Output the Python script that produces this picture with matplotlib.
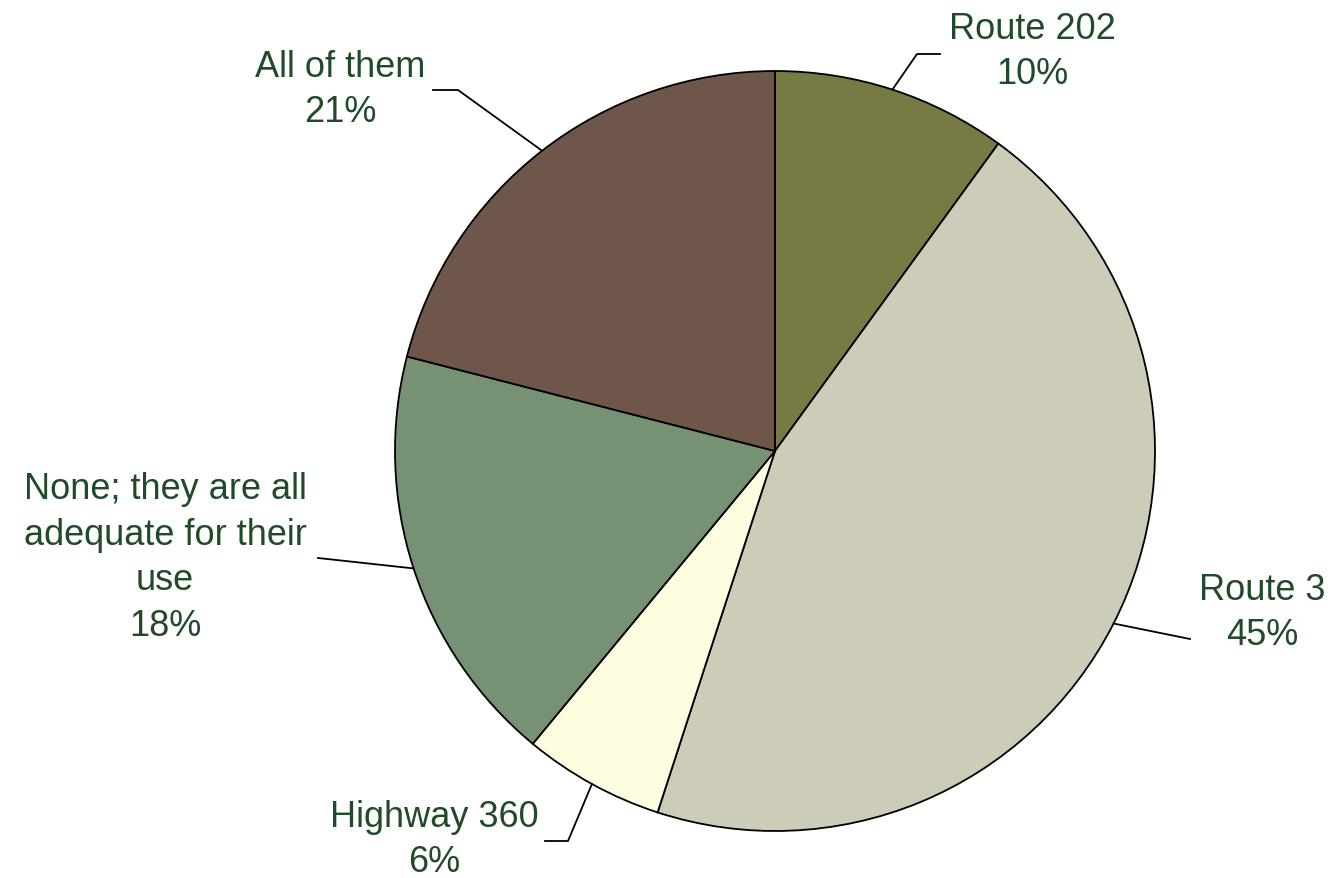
import numpy as np
import matplotlib.pyplot as plt

# survey answers, clockwise from 12 o'clock
labels = ["Route 202", "Route 3", "Highway 360",
          "None; they are all\nadequate for their\nuse", "All of them"]
shares = [10, 45, 6, 18, 21]
colors = ["#777a42", "#cdccb9", "#fdfde0", "#779175", "#6e564a"]

W, H = 1332, 879
CX, CY, R = 775, 452, 380  # pie centre / radius in pixels (top-origin)

# label layout: (text centre x, y), leader elbow points after the arc point
layout = [
    ((1032, 52), [(917, 55), (940, 55)]),
    ((1262, 613), [(1190, 640)]),
    ((434, 840), [(568, 842), (545, 842)]),
    ((165, 558), [(318, 559)]),
    ((340, 90), [(458, 91), (433, 91)]),
]
txt_color = "#214a28"

plt.rcParams['font.family'] = ['Liberation Sans', 'DejaVu Sans']

fig = plt.figure(figsize=(W / 100, H / 100), dpi=100)
ax = fig.add_axes([0, 0, 1, 1])

wedges, _ = ax.pie(shares, colors=colors, startangle=90, counterclock=False,
                   center=(CX, H - CY), radius=R,
                   wedgeprops=dict(edgecolor='black', linewidth=1.3))
ax.set_xlim(0, W)
ax.set_ylim(0, H)
ax.set_aspect('equal')
ax.axis('off')

for w, lab, val, (tpos, elbow) in zip(wedges, labels, shares, layout):
    mid = np.deg2rad((w.theta1 + w.theta2) / 2)
    x0 = CX + R * np.cos(mid)
    y0 = (H - CY) + R * np.sin(mid)
    xs = [x0] + [p[0] for p in elbow]
    ys = [y0] + [H - p[1] for p in elbow]
    ax.plot(xs, ys, color='black', lw=1.3)
    ax.text(tpos[0], H - tpos[1], "%s\n%d%%" % (lab, val), ha='center', va='center',
            fontsize=26, color=txt_color, linespacing=1.4)

fig.savefig("out.png", dpi=100)
